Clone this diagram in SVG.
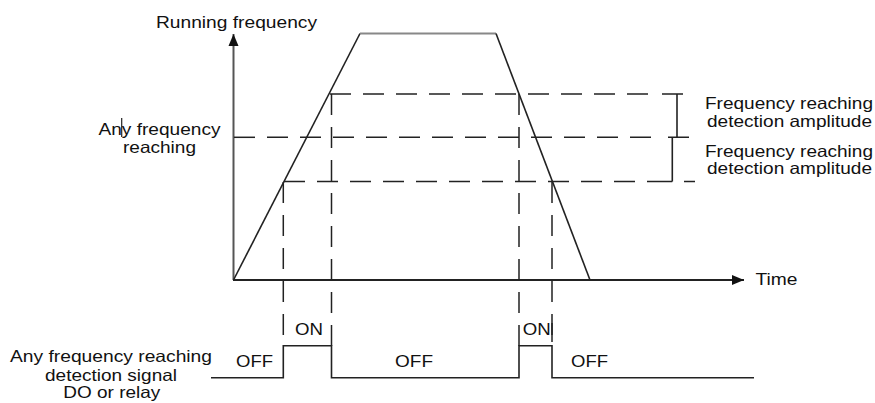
<svg xmlns="http://www.w3.org/2000/svg" width="875" height="403" viewBox="0 0 875 403">
<defs>
<style>
.t{font-family:"Liberation Sans",Arial,sans-serif;font-size:16.5px;fill:#111}
.s{fill:none;stroke:#222;stroke-width:1.6}
.d{fill:none;stroke:#222;stroke-width:1.5;stroke-dasharray:21 12}
</style>
<marker id="ah" viewBox="0 0 12 12" refX="12" refY="6" markerWidth="12" markerHeight="12" markerUnits="userSpaceOnUse" orient="auto">
<path d="M0,1 L12,6 L0,11 Z" fill="#111"/>
</marker>
</defs>
<rect width="875" height="403" fill="#fff"/>
<g id="axes">
<line x1="233.5" y1="280" x2="233.5" y2="34" stroke="#555" stroke-width="2" marker-end="url(#ah)"/>
<line x1="233" y1="280" x2="744" y2="280" stroke="#222" stroke-width="1.8" marker-end="url(#ah)"/>
</g>
<g id="curve">
<polyline class="s" points="233.5,280 360,33.5"/>
<line x1="360" y1="33.5" x2="496" y2="33.5" stroke="#888" stroke-width="2.2"/>
<polyline class="s" points="496,33.5 590,280"/>
</g>
<g id="connectors">
<line class="d" x1="330" y1="94" x2="652" y2="94"/>
<line class="d" x1="234" y1="137.3" x2="659" y2="137.3"/>
<line class="d" x1="284" y1="181.5" x2="650" y2="181.5"/>
<line class="d" x1="283.3" y1="182" x2="283.3" y2="346"/>
<line class="d" x1="331.5" y1="94" x2="331.5" y2="346"/>
<line class="d" x1="519" y1="94" x2="519" y2="346"/>
<line class="d" x1="552" y1="182" x2="552" y2="346"/>
<path class="s" d="M662,94 H683 M677,94 V137.3 M668,137.3 H689 M672.3,137.3 V181.5 M650,181.5 H672.3 M684,181.5 H695"/>
</g>
<g id="signal">
<polyline class="s" points="211,377.7 283.3,377.7 283.3,345.7 331.5,345.7 331.5,377.7 519,377.7 519,345.7 552,345.7 552,377.7 754,377.7"/>
<line x1="552" y1="323" x2="552" y2="342" stroke="#222" stroke-width="1.5"/>
</g>
<g id="labels">
<text class="t" x="156" y="27.5" textLength="161" lengthAdjust="spacingAndGlyphs">Running frequency</text>
<text class="t" x="98.5" y="135" textLength="122" lengthAdjust="spacingAndGlyphs">Any frequency</text>
<line x1="121.7" y1="118" x2="121.7" y2="137" stroke="#222" stroke-width="1.2"/>
<text class="t" x="123" y="152.7" textLength="73" lengthAdjust="spacingAndGlyphs">reaching</text>
<text class="t" x="705" y="109" textLength="168" lengthAdjust="spacingAndGlyphs">Frequency reaching</text>
<text class="t" x="707" y="126.7" textLength="165" lengthAdjust="spacingAndGlyphs">detection amplitude</text>
<text class="t" x="705" y="156.7" textLength="168" lengthAdjust="spacingAndGlyphs">Frequency reaching</text>
<text class="t" x="707" y="174.3" textLength="165" lengthAdjust="spacingAndGlyphs">detection amplitude</text>
<text class="t" x="755.5" y="285" textLength="42" lengthAdjust="spacingAndGlyphs">Time</text>
<text class="t" x="10" y="362.3" textLength="202" lengthAdjust="spacingAndGlyphs">Any frequency reaching</text>
<text class="t" x="45" y="381" textLength="132" lengthAdjust="spacingAndGlyphs">detection signal</text>
<text class="t" x="63.3" y="398" textLength="97" lengthAdjust="spacingAndGlyphs">DO or relay</text>
<text class="t" x="236" y="367.3" textLength="37" lengthAdjust="spacingAndGlyphs">OFF</text>
<text class="t" x="295" y="335" textLength="28" lengthAdjust="spacingAndGlyphs">ON</text>
<text class="t" x="395" y="367.3" textLength="38" lengthAdjust="spacingAndGlyphs">OFF</text>
<text class="t" x="522.7" y="335" textLength="28" lengthAdjust="spacingAndGlyphs">ON</text>
<text class="t" x="571" y="366.5" textLength="37" lengthAdjust="spacingAndGlyphs">OFF</text>
</g>
</svg>
